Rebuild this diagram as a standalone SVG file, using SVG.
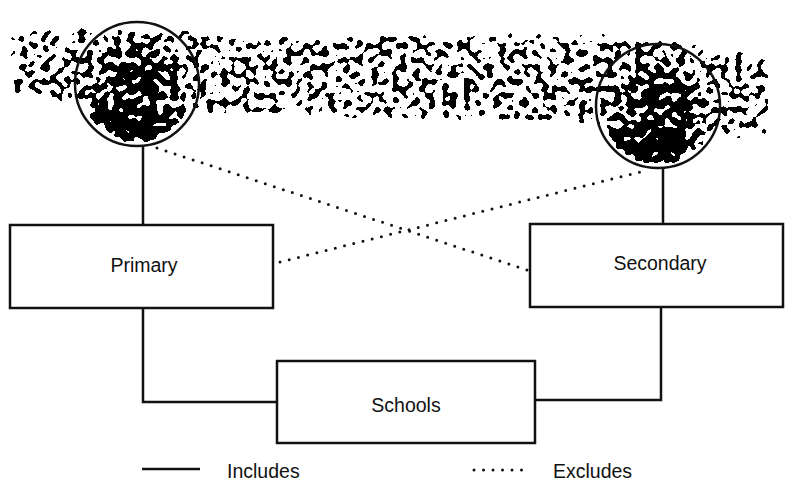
<svg xmlns="http://www.w3.org/2000/svg" width="785" height="487" viewBox="0 0 785 487">
<style>
.box{fill:#fff;stroke:#111;stroke-width:2.5}
.inc{fill:none;stroke:#111;stroke-width:2.5}
.exc{fill:none;stroke:#111;stroke-width:3;stroke-linecap:round;stroke-dasharray:0 9.5}
.lbl{font-family:"Liberation Sans",Arial,sans-serif;font-size:19.5px;fill:#111;text-anchor:middle}
.leg{font-family:"Liberation Sans",Arial,sans-serif;font-size:19.5px;fill:#111}
.ring{fill:none;stroke:#111;stroke-width:2.5}
</style>
<defs>
<filter id="speck" filterUnits="userSpaceOnUse" x="0" y="0" width="785" height="200" color-interpolation-filters="sRGB">
<feTurbulence type="fractalNoise" baseFrequency="0.14" numOctaves="1" seed="11" result="n"/>
<feColorMatrix in="n" type="matrix" values="0 0 0 0 0  0 0 0 0 0  0 0 0 0 0  1 0 0 0 0" result="na"/>
<feGaussianBlur in="SourceAlpha" stdDeviation="5" result="b"/>
<feComposite in="na" in2="b" operator="arithmetic" k1="0" k2="1" k3="1" k4="-0.72" result="s"/>
<feComponentTransfer in="s">
<feFuncA type="discrete" tableValues="0 0 0 0 0 1 1 1 1 1"/>
</feComponentTransfer>
</filter>
<radialGradient id="dense">
<stop offset="0" stop-color="#000" stop-opacity="0.86"/>
<stop offset="0.45" stop-color="#000" stop-opacity="0.78"/>
<stop offset="1" stop-color="#000" stop-opacity="0.66"/>
</radialGradient>
</defs>
<rect width="785" height="487" fill="#fff"/>
<g id="texture" filter="url(#speck)">
<path fill-rule="evenodd" d="M8,30 C60,22 150,24 250,32 L600,30 C680,36 740,48 772,58 L772,140 C700,142 620,128 500,124 L250,118 C150,112 60,104 8,100 Z M77,84 A60,60 0 1 0 197,84 A60,60 0 1 0 77,84 Z M598,106 A60,60 0 1 0 718,106 A60,60 0 1 0 598,106 Z" fill="#000" fill-opacity="0.67"/>
<circle cx="137" cy="84" r="60" fill="url(#dense)"/>
<circle cx="658" cy="106" r="60" fill="url(#dense)"/>
</g>
<g id="connectors">
<path class="inc" d="M143,147 V225"/>
<path class="inc" d="M663,168 V224"/>
<path class="inc" d="M143,308 V402 H277"/>
<path class="inc" d="M661,307 V400 H535"/>
<path class="exc" d="M157,148 L527,270"/>
<path class="exc" d="M280,262 L648,170"/>
</g>
<g id="node-left-circle"><circle class="ring" cx="137" cy="84" r="62"/></g>
<g id="node-right-circle"><circle class="ring" cx="658" cy="106" r="62"/></g>
<g id="node-primary">
<rect class="box" x="10" y="225" width="263" height="83"/>
<text class="lbl" x="144" y="272">Primary</text>
</g>
<g id="node-secondary">
<rect class="box" x="530" y="224" width="253" height="83"/>
<text class="lbl" x="660" y="270">Secondary</text>
</g>
<g id="node-schools">
<rect class="box" x="277" y="361" width="258" height="82"/>
<text class="lbl" x="406" y="412">Schools</text>
</g>
<g id="legend">
<path class="inc" d="M142,469 H200"/>
<text class="leg" x="227" y="478">Includes</text>
<path class="exc" d="M474,470 H530"/>
<text class="leg" x="553" y="478">Excludes</text>
</g>
</svg>
